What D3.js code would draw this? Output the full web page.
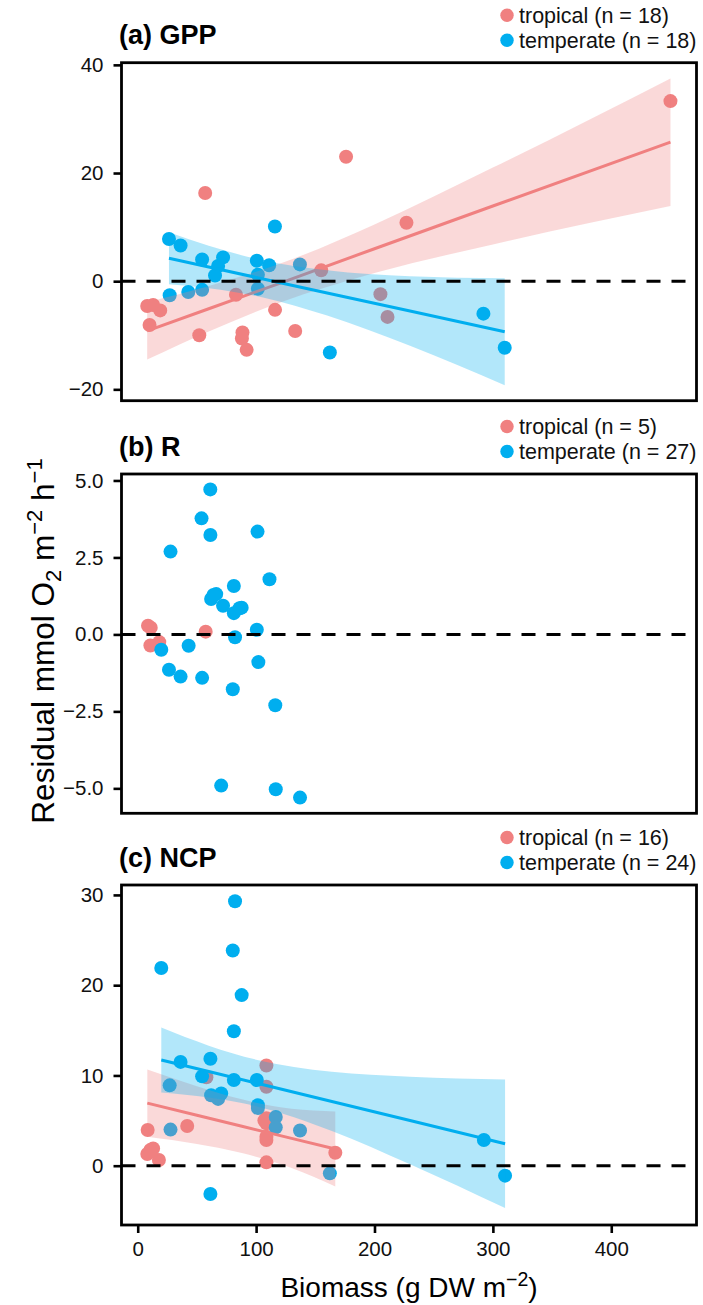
<!DOCTYPE html>
<html>
<head>
<meta charset="utf-8">
<script src="https://cdn.jsdelivr.net/npm/d3@7"></script>
<style>
  body { margin: 0; background: #fff; }
  svg { display: block; font-family: "Liberation Sans", Arial, sans-serif; }
</style>
</head>
<body>
<svg id="chart"></svg>
<script>
// tick labels
var xTicks = [0, 100, 200, 300, 400]
var gppTicks = [-20, 0, 20, 40]
var rTicks = [-5, -2.5, 0, 2.5, 5]
var ncpTicks = [0, 10, 20, 30]

var groups = ["tropical", "temperate"]

// (a) GPP residuals
var gppTropX = [8, 13, 19, 10, 52, 57, 83, 88, 88.5, 92, 116, 133, 155, 176, 205, 211, 227, 450]
var gppTropY = [-4.6, -4.4, -5.4, -8.1, -10.0, 16.3, -2.5, -10.6, -9.5, -12.7, -5.3, -9.2, 2.0, 23.0, -2.4, -6.6, 10.8, 33.3]
var gppTempX = [26.4, 36.2, 54.4, 72.1, 67.9, 65.3, 100.6, 111, 137, 101.5, 101.5, 54.4, 42.7, 27, 115.9, 162.3, 292, 310]
var gppTempY = [7.8, 6.6, 4.0, 4.4, 2.8, 1.05, 3.8, 2.95, 3.1, 1.2, -1.4, -1.6, -2.0, -2.6, 10.1, -13.2, -6.0, -12.3]

// (a) fitted lines with confidence band
var gppTropFitX = [8, 60, 121, 200, 300, 450]
var gppTropFit = [-9.2, -5.1, -0.3, 6.0, 13.9, 25.7]
var gppTropLo = [-14.5, -9.3, -3.9, 1.5, 6.8, 13.9]
var gppTropHi = [-3.9, -0.9, 3.3, 10.5, 21.0, 37.5]
var gppTempFitX = [26.4, 60, 104, 160, 230, 310]
var gppTempFit = [4.23, 2.62, 0.51, -2.17, -5.52, -9.35]
var gppTempLo = [-0.57, -1.3, -2.91, -6.36, -11.96, -19.25]
var gppTempHi = [9.03, 6.54, 3.93, 2.02, 0.92, 0.55]

// (b) R residuals
var rTropX = [8.7, 11, 10.7, 18.2, 57.4]
var rTropY = [0.28, 0.22, -0.36, -0.25, 0.09]
var rTempX = [61.3, 53.9, 61.4, 101.2, 27.7, 111.3, 81.2, 66.3, 62, 64, 72.1, 87.8, 86, 81.2, 100.6, 82.2,
              19.9, 43, 26.4, 36.2, 54.4, 101.9, 80.3, 116.2, 70.5, 116.6, 137.1]
var rTempY = [4.71, 3.77, 3.23, 3.34, 2.69, 1.79, 1.57, 1.31, 1.15, 1.28, 0.93, 0.87, 0.85, 0.69, 0.15, -0.09,
              -0.5, -0.37, -1.15, -1.37, -1.41, -0.9, -1.78, -2.3, -4.91, -5.03, -5.3]

// (c) NCP residuals
var ncpTropX = [8.4, 41.8, 10.7, 8.1, 17.9, 13, 58, 108.7, 108.7, 108.7, 108.7, 108.7, 108.7, 108.7, 107, 166.9]
var ncpTropY = [3.95, 4.4, 1.74, 1.3, 0.63, 1.9, 9.8, 11.1, 8.75, 5.25, 4.7, 3.2, 2.85, 0.37, 5.0, 1.44]
var ncpTempX = [82.2, 80.3, 19.9, 87.8, 81.2, 36.2, 61.4, 54.4, 81.2, 100.6, 27, 62, 70.5, 67.9, 101.5, 101.5,
                116.6, 116.6, 137.1, 27.7, 292.4, 162.3, 61.4, 310.3]
var ncpTempY = [29.3, 23.85, 21.9, 18.9, 14.9, 11.5, 11.85, 9.9, 9.5, 9.5, 8.9, 7.8, 8.0, 7.4, 6.7, 6.4,
                5.4, 4.25, 3.9, 4.0, 2.85, -0.85, -3.13, -1.1]

// (c) fitted lines with confidence band
var ncpTropFitX = [8.1, 50, 88, 130, 166.9]
var ncpTropFit = [6.93, 5.59, 4.37, 3.03, 1.85]
var ncpTropLo = [3.2, 2.4, 1.4, -0.25, -2.3]
var ncpTropHi = [10.65, 8.8, 7.35, 6.3, 6.0]
var ncpTempFitX = [19.9, 60, 100, 164, 230, 310.3]
var ncpTempFit = [11.72, 10.44, 9.16, 7.11, 5.0, 2.43]
var ncpTempLo = [8.1, 7.55, 6.6, 3.85, 0.15, -4.7]
var ncpTempHi = [15.3, 13.3, 11.75, 10.4, 9.85, 9.55]

var width = 703
var height = 1305
var red = "#F08080"
var blue = "#00AEEF"
var left = 121.5, right = 696.5

var zip = function(xs, ys) {
  return xs.map(function(x, i) { return [x, ys[i]] })
}
var band = function(xs, fit, lo, hi) {
  return xs.map(function(x, i) { return {x: x, fit: fit[i], lo: lo[i], hi: hi[i]} })
}

var panels = [
  {title: "(a) GPP", top: 62.7, bottom: 400.7, domain: [-22.1, 40.4], ticks: gppTicks, fmt: d3.format("d"),
   n: [18, 18],
   pts: [zip(gppTropX, gppTropY), zip(gppTempX, gppTempY)],
   fits: [band(gppTropFitX, gppTropFit, gppTropLo, gppTropHi), band(gppTempFitX, gppTempFit, gppTempLo, gppTempHi)]},
  {title: "(b) R", top: 474, bottom: 813.3, domain: [-5.81, 5.21], ticks: rTicks, fmt: d3.format(".1f"),
   n: [5, 27],
   pts: [zip(rTropX, rTropY), zip(rTempX, rTempY)],
   fits: []},
  {title: "(c) NCP", top: 885, bottom: 1225, domain: [-6.57, 31.1], ticks: ncpTicks, fmt: d3.format("d"),
   n: [16, 24],
   pts: [zip(ncpTropX, ncpTropY), zip(ncpTempX, ncpTempY)],
   fits: [band(ncpTropFitX, ncpTropFit, ncpTropLo, ncpTropHi), band(ncpTempFitX, ncpTempFit, ncpTempLo, ncpTempHi)]}
]

var svg = d3.select("#chart")
    .attr("width", width)
    .attr("height", height)

var x = d3.scaleLinear().domain([-13.7, 472]).range([left, right])
var colors = [red, blue]

panels.forEach(function(p, pi) {
  var y = d3.scaleLinear().domain(p.domain).range([p.bottom, p.top])
  var g = svg.append("g")

  // points first, smooths on top of them
  p.pts.forEach(function(pts, gi) {
    g.selectAll(null).data(pts).enter().append("circle")
      .attr("cx", function(d) { return x(d[0]) })
      .attr("cy", function(d) { return y(d[1]) })
      .attr("r", 7)
      .attr("fill", colors[gi])
  })

  p.fits.forEach(function(f, gi) {
    var area = d3.area()
      .x(function(d) { return x(d.x) })
      .y0(function(d) { return y(d.lo) })
      .y1(function(d) { return y(d.hi) })
      .curve(d3.curveMonotoneX)
    var line = d3.line()
      .x(function(d) { return x(d.x) })
      .y(function(d) { return y(d.fit) })
    g.append("path").datum(f)
      .attr("d", area)
      .attr("fill", colors[gi])
      .attr("fill-opacity", 0.3)
    g.append("path").datum(f)
      .attr("d", line)
      .attr("fill", "none")
      .attr("stroke", colors[gi])
      .attr("stroke-width", 3)
  })

  g.append("line")
    .attr("x1", left).attr("x2", right)
    .attr("y1", y(0)).attr("y2", y(0))
    .attr("stroke", "#000")
    .attr("stroke-width", 3)
    .attr("stroke-dasharray", "14,11")

  g.append("rect")
    .attr("x", left).attr("y", p.top)
    .attr("width", right - left).attr("height", p.bottom - p.top)
    .attr("fill", "none")
    .attr("stroke", "#000")
    .attr("stroke-width", 2.8)

  var yAxis = g.append("g")
    .attr("transform", "translate(" + left + ",0)")
    .call(d3.axisLeft(y).tickValues(p.ticks).tickFormat(p.fmt).tickSize(8).tickPadding(10))
  yAxis.select(".domain").remove()
  yAxis.selectAll("line").attr("stroke", "#000").attr("stroke-width", 2.6)
  yAxis.selectAll("text").attr("fill", "#111").style("font-size", "20.5px").attr("font-family", null)

  // title
  svg.append("text")
    .attr("x", 119).attr("y", p.top - 18.3)
    .style("font-size", "27px").style("font-weight", "bold")
    .text(p.title)

  // legend
  groups.forEach(function(name, gi) {
    var cy = p.top - 47.5 + gi * 25
    svg.append("circle").attr("cx", 507).attr("cy", cy).attr("r", 6.7).attr("fill", colors[gi])
    svg.append("text")
      .attr("x", 519).attr("y", cy)
      .attr("dy", "0.35em")
      .style("font-size", "21.5px")
      .attr("fill", "#111")
      .text(name + " (n = " + p.n[gi] + ")")
  })

  if (pi == panels.length - 1) {
    var xAxis = g.append("g")
      .attr("transform", "translate(0," + p.bottom + ")")
      .call(d3.axisBottom(x).tickValues(xTicks).tickSize(8).tickPadding(8))
    xAxis.select(".domain").remove()
    xAxis.selectAll("line").attr("stroke", "#000").attr("stroke-width", 2.6)
    xAxis.selectAll("text").attr("fill", "#111").style("font-size", "20.5px").attr("font-family", null)
  }
})

// axis titles
var xt = svg.append("text")
    .attr("x", (left + right) / 2).attr("y", 1297)
    .attr("text-anchor", "middle")
    .style("font-size", "28px")
xt.append("tspan").text("Biomass (g DW m")
xt.append("tspan").attr("dy", -11).style("font-size", "19.5px").text("\u22122")
xt.append("tspan").attr("dy", 11).text(")")

var yt = svg.append("text")
    .attr("transform", "translate(54,641) rotate(-90)")
    .attr("text-anchor", "middle")
    .style("font-size", "31.5px")
yt.append("tspan").text("Residual mmol O")
yt.append("tspan").attr("dy", 7).style("font-size", "22px").text("2")
yt.append("tspan").attr("dy", -7).text(" m")
yt.append("tspan").attr("dy", -12).style("font-size", "22px").text("\u22122")
yt.append("tspan").attr("dy", 12).text(" h")
yt.append("tspan").attr("dy", -12).style("font-size", "22px").text("\u22121")
</script>
</body>
</html>
